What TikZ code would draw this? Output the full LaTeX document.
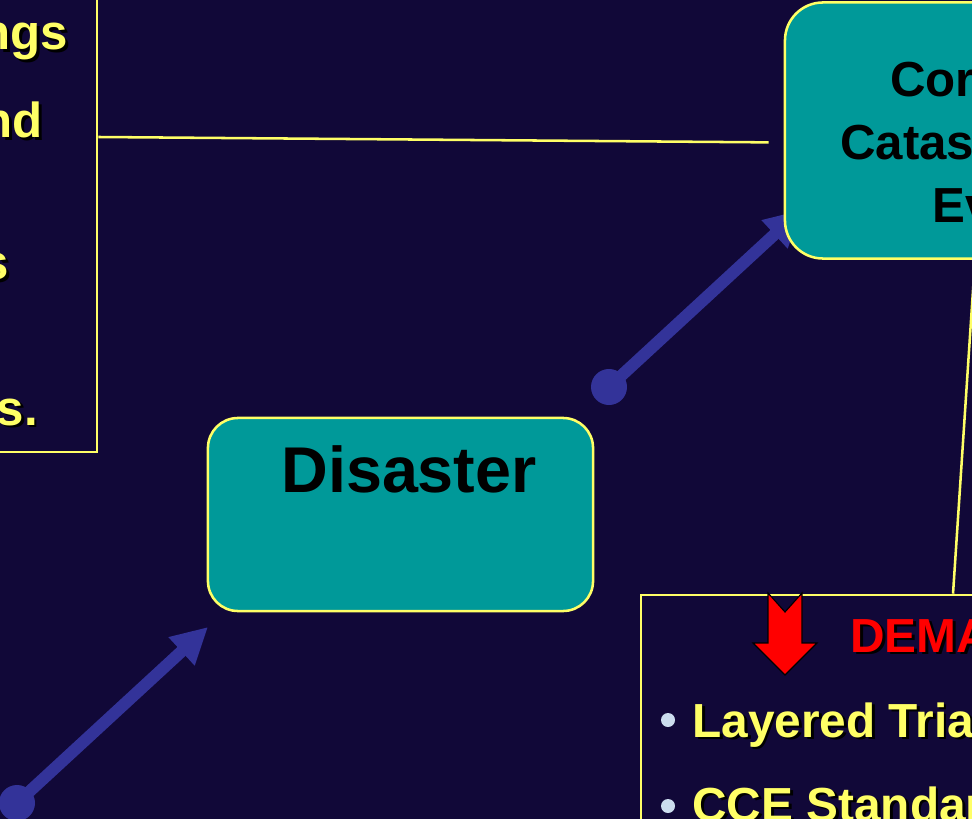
\documentclass[tikz,border=0pt]{standalone}
\usepackage{fontspec}
\setmainfont{Liberation Sans}
\usetikzlibrary{arrows.meta}
\definecolor{slidebg}{RGB}{17,8,56}
\definecolor{boxteal}{RGB}{0,153,153}
\definecolor{lineyellow}{RGB}{255,255,102}
\definecolor{arrowblue}{RGB}{51,51,153}
\definecolor{bulletgrey}{RGB}{204,221,238}
\tikzset{
    outlinebox/.style={draw=lineyellow, line width=1.8pt, inner sep=0pt},
    tealbox/.style={outlinebox, fill=boxteal, rounded corners=0.75cm},
    link/.style={draw=lineyellow, line width=1.8pt},
    flow/.style={draw=arrowblue, line width=0.3cm, -{Triangle[length=0.9cm,width=0.9cm]}},
    blob/.style={circle, fill=arrowblue, minimum size=0.9cm, inner sep=0pt},
    bigtxt/.style={font=\bfseries\fontsize{35}{40}\selectfont, inner sep=0pt},
    yelltxt/.style={bigtxt, text=lineyellow},
    itemtxt/.style={yelltxt, font=\bfseries\fontsize{34}{38}\selectfont},
    redtxt/.style={bigtxt, text=red, font=\bfseries\fontsize{34}{38}\selectfont}
}
\newcommand{\shadowed}[4]{%
    \node[#1, text=black, xshift=0.07cm, yshift=-0.07cm] at (#3) {#4};
    \node[#1] (#2) at (#3) {#4};}
\begin{document}
\begin{tikzpicture}[x=0.025cm, y=-0.025cm]
    \useasboundingbox (0,0) rectangle (972,819);
    \clip (0,0) rectangle (972,819);
    \fill[slidebg] (0,0) rectangle (972,819);

    \node[outlinebox, minimum width=10cm, minimum height=15.75cm] (memo) at (-103,137) {};
    \shadowed{yelltxt, anchor=base east}{memo1}{68,50}{ngs}
    \shadowed{yelltxt, anchor=base east}{memo2}{43,138}{nd}
    \shadowed{yelltxt, anchor=base east}{memo3}{9,280}{s}
    \shadowed{yelltxt, anchor=base east}{memo4}{38,425}{s.}

    \node[blob] (start1) at (17,803) {};
    \coordinate (tip1) at (208,627);
    \draw[flow] (start1.center) -- (tip1);
    \node[blob] (start2) at (609,387) {};
    \coordinate (tip2) at (801,210);
    \draw[flow] (start2.center) -- (tip2);

    \node[tealbox, rounded corners=0.95cm, minimum width=10cm, minimum height=6.4cm] (conseq) at (985,130.5) {};
    \node[tealbox, minimum width=9.625cm, minimum height=4.825cm] (disaster) at (400.5,514.5) {};
    \node[outlinebox, minimum width=12.5cm, minimum height=7.5cm] (demand) at (891,745) {};

    \draw[link, shorten >=0.375cm] (memo.east) -- ([yshift=-0.3cm]conseq.west);
    \draw[link] ([xshift=-0.25cm]conseq.south) -- ([xshift=1.55cm]demand.north);

    \node[bigtxt, anchor=base west] (cons1) at (890,97) {Cor};
    \node[bigtxt, anchor=base west] (cons2) at (840,160) {Catas};
    \node[bigtxt, anchor=base west] (cons3) at (932,223) {Ev};
    \node[bigtxt, font=\bfseries\fontsize{46}{50}\selectfont, anchor=base] (distxt) at (409,492) {Disaster};

    \draw[fill=red, draw=black, line width=0.8pt] (768,593) -- (785,612) -- (802,593) -- (802,643)
        -- (817,643) -- (785,675) -- (753,643) -- (768,643) -- cycle;
    \shadowed{redtxt, anchor=base west}{dem1}{850,652}{DEMA}
    \node[circle, fill=bulletgrey, minimum size=0.35cm, inner sep=0pt] (bul1) at (668,720) {};
    \node[circle, fill=bulletgrey, minimum size=0.35cm, inner sep=0pt] (bul2) at (668,806) {};
    \shadowed{itemtxt, anchor=base west}{item1}{692,737}{Layered Tria}
    \shadowed{itemtxt, anchor=base west}{item2}{692,821}{CCE Standar}
\end{tikzpicture}
\end{document}
